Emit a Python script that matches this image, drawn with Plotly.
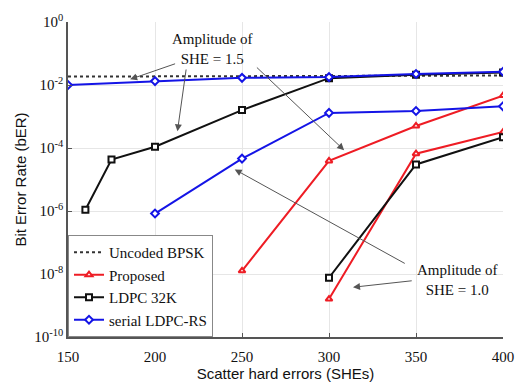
import numpy as np
import plotly.graph_objects as go

# ---------------- data ----------------
x_unc = [150, 200, 250, 300, 350, 400]
y_unc = [0.0185, 0.0186, 0.0188, 0.019, 0.0195, 0.02]

x_prop15 = [250, 300, 350, 400]
y_prop15 = [1.26e-8, 3.9e-5, 5.0e-4, 4.6e-3]
x_prop10 = [300, 350, 400]
y_prop10 = [1.6e-9, 6.6e-5, 3.2e-4]

x_ldpc15 = [160, 175, 200, 250, 300, 350, 400]
y_ldpc15 = [1.1e-6, 4.3e-5, 1.1e-4, 1.6e-3, 0.0165, 0.021, 0.025]
x_ldpc10 = [300, 350, 400]
y_ldpc10 = [7.6e-9, 3.0e-5, 2.2e-4]

x_ser15 = [150, 200, 250, 300, 350, 400]
y_ser15 = [0.010, 0.0133, 0.0169, 0.0178, 0.0224, 0.0263]
x_ser10 = [200, 250, 300, 350, 400]
y_ser10 = [8.3e-7, 4.6e-5, 1.3e-3, 1.5e-3, 2.1e-3]

x_ticks = [150, 200, 250, 300, 350, 400]
y_tick_exp = [0, -2, -4, -6, -8, -10]

RED = "#ee1c24"
BLUE = "#1414e6"
BLACK = "#111111"

fig = go.Figure()

fig.add_trace(go.Scatter(x=x_unc, y=y_unc, mode="lines", name="Uncoded BPSK",
                         line=dict(color="#333333", width=2, dash="dot")))

def series(x, y, color, symbol, name, show):
    fig.add_trace(go.Scatter(
        x=x, y=y, mode="lines+markers", name=name, legendgroup=name, showlegend=show,
        line=dict(color=color, width=2),
        marker=dict(symbol=symbol, size=6, color="white", line=dict(color=color, width=2))))

series(x_prop15, y_prop15, RED, "triangle-up", "Proposed", True)
series(x_prop10, y_prop10, RED, "triangle-up", "Proposed", False)
series(x_ldpc15, y_ldpc15, BLACK, "square", "LDPC 32K", True)
series(x_ldpc10, y_ldpc10, BLACK, "square", "LDPC 32K", False)
series(x_ser15, y_ser15, BLUE, "diamond", "serial LDPC-RS", True)
series(x_ser10, y_ser10, BLUE, "diamond", "serial LDPC-RS", False)

serif = "Liberation Serif, Times New Roman, serif"
sans = "Liberation Sans, Arial, sans-serif"

# annotations: texts
fig.add_annotation(x=232.8, y=-0.85, xref="x", yref="y", text="Amplitude of<br>SHE = 1.5",
                   showarrow=False, font=dict(family=serif, size=15, color="#111"))
fig.add_annotation(x=373.4, y=-8.18, xref="x", yref="y", text="Amplitude of<br>SHE = 1.0",
                   showarrow=False, font=dict(family=serif, size=15, color="#111"))

# arrows (head x,y ; tail ax,ay) in data coords (log10 for y)
arrows = [
    (185.7, -1.82, 212.4, -1.31),
    (212.9, -3.47, 218.0, -1.46),
    (308.7, -4.07, 257.7, -1.40),
    (245.8, -4.68, 344.4, -7.69),
    (313.8, -8.42, 348.4, -8.21),
]
for hx, hy, tx, ty in arrows:
    fig.add_annotation(x=hx, y=hy, ax=tx, ay=ty, xref="x", yref="y", axref="x", ayref="y",
                       text="", showarrow=True, arrowhead=2, arrowsize=1.4, arrowwidth=1,
                       arrowcolor="#555555")

fig.add_shape(type="circle", xref="x", yref="y", x0=289.2, x1=310.8, y0=-9.36, y1=-7.48,
              line=dict(color="#666666", width=1))

fig.update_xaxes(range=[150, 400], tickvals=x_ticks, ticktext=[str(v) for v in x_ticks],
                 showgrid=True, gridcolor="#e6e6e6", gridwidth=1,
                 showline=True, linecolor="#555555", linewidth=1.5,
                 ticks="inside", ticklen=4, tickcolor="#555555",
                 ticklabelstandoff=5,
                 tickfont=dict(family=serif, size=15, color="#111"),
                 title=dict(text="Scatter hard errors (SHEs)", font=dict(family=sans, size=15, color="#111"),
                            standoff=2),
                 zeroline=False)
fig.update_yaxes(type="log", range=[-10, 0],
                 tickvals=[10.0 ** e for e in y_tick_exp],
                 ticktext=["10<sup>%d</sup>" % e for e in y_tick_exp],
                 showgrid=True, gridcolor="#e6e6e6", gridwidth=1,
                 showline=True, linecolor="#555555", linewidth=1.5,
                 ticks="inside", ticklen=4, tickcolor="#555555",
                 tickfont=dict(family=serif, size=15, color="#111"),
                 title=dict(text="Bit Error Rate (bER)", font=dict(family=sans, size=15, color="#111"),
                            standoff=4),
                 zeroline=False)

fig.update_layout(
    width=526, height=389,
    margin=dict(l=68, r=17, t=19, b=41),
    plot_bgcolor="white", paper_bgcolor="white",
    legend=dict(x=0.0, y=0.0, xanchor="left", yanchor="bottom",
                bgcolor="white", bordercolor="#888888", borderwidth=1,
                font=dict(family=serif, size=15, color="#111"),
                tracegroupgap=0, itemwidth=30),
)

fig.write_html("out.html")
